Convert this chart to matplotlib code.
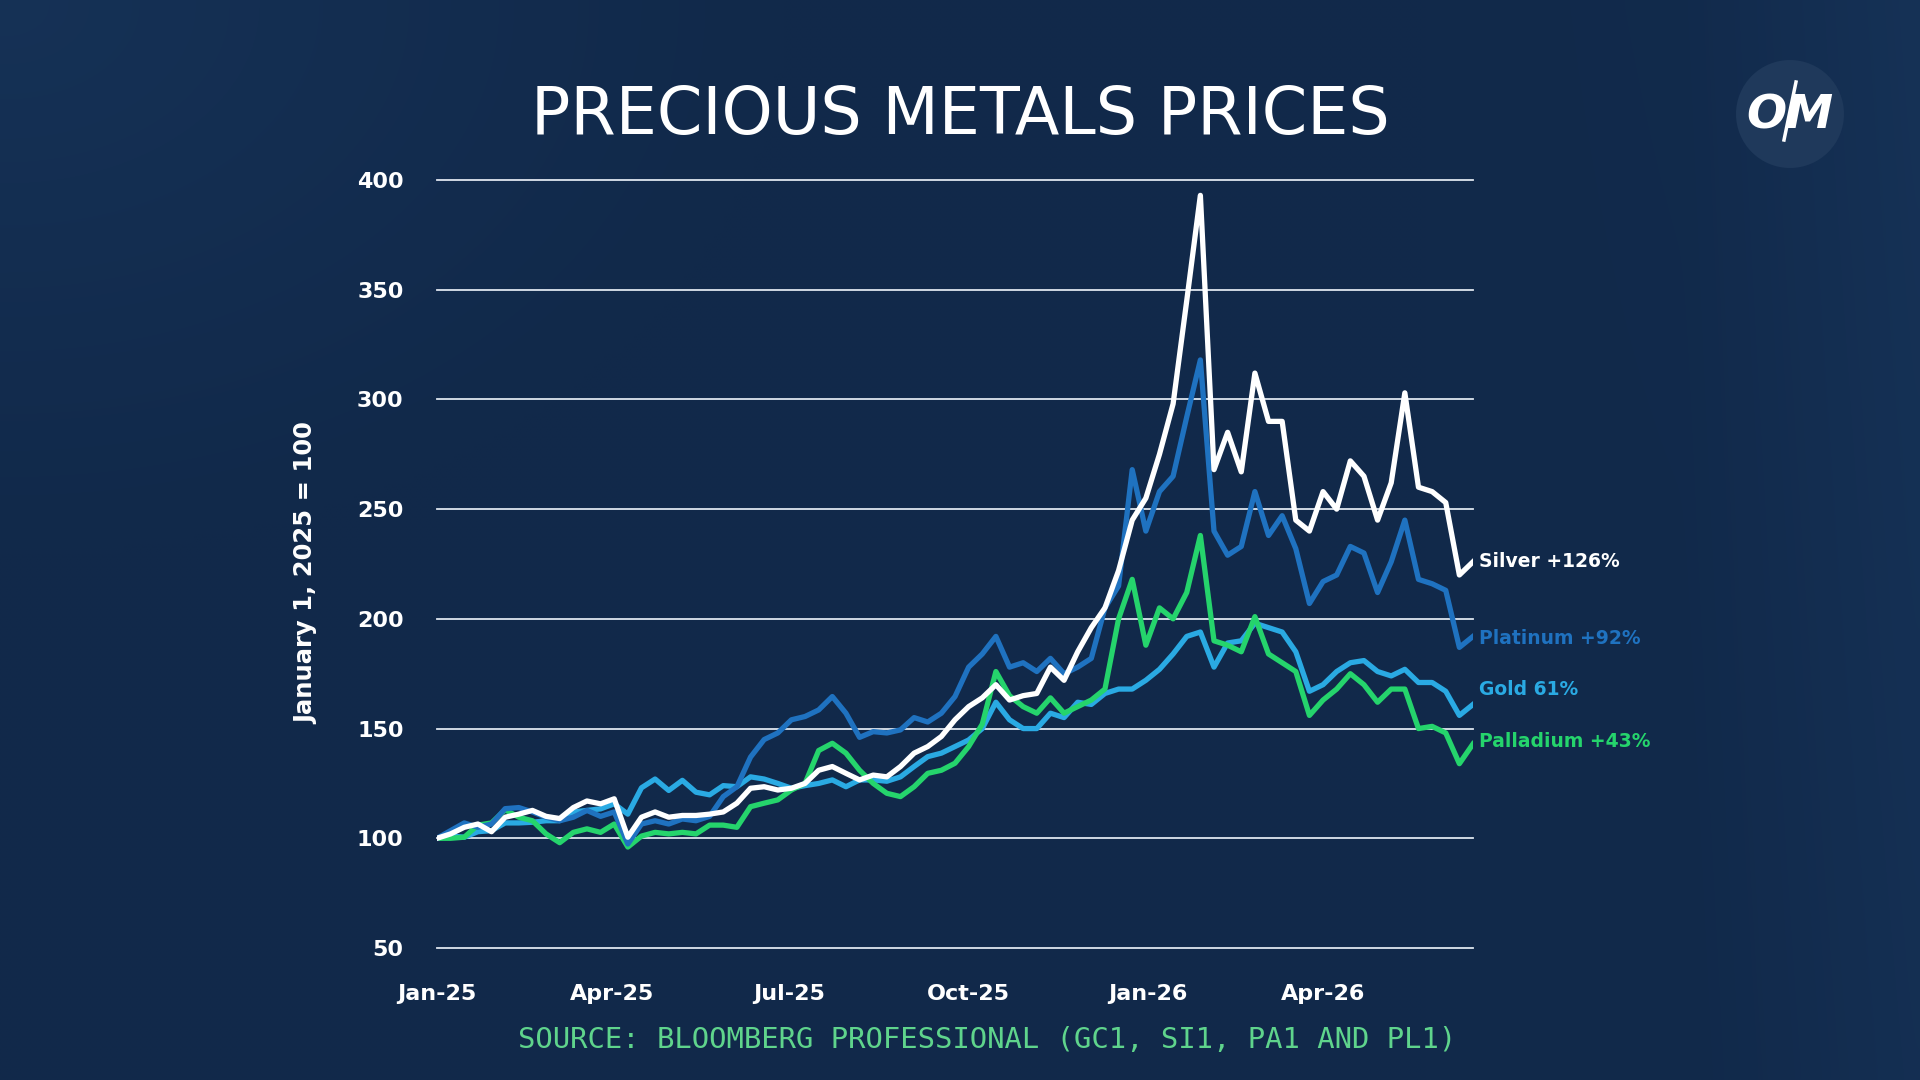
import matplotlib
matplotlib.use('Agg')
import matplotlib.pyplot as plt
import numpy as np
import pandas as pd
from matplotlib.patches import Ellipse
from matplotlib.lines import Line2D

# weekly index values, Jan 1 2025 = 100
silver = [100, 102, 105, 106.5, 103, 109.6, 111, 112.7, 110, 109, 114, 117, 115.7, 118, 100.5, 109.6,
          112, 109.6, 110.4, 110.4, 111, 112, 116, 122.8, 123.5, 122, 122.8, 125, 131, 132.7, 129.6, 126.6,
          128.8, 128, 132.7, 138.8, 141.8, 146.4, 154, 160, 164, 170, 163, 165, 166, 178, 172, 185,
          196, 205, 222, 245, 255, 275, 298, 345, 393, 268, 285, 267, 312, 290, 290, 245, 240, 258,
          250, 272, 265, 245, 262, 303, 260, 258, 253, 220, 226]
platinum = [100, 103.5, 107, 105, 106.5, 113.5, 114, 112, 109.6, 108, 109.6, 112.7, 110, 112, 97.4, 106.5,
            108, 106.5, 108.8, 108, 110, 119, 123.5, 137, 145, 148, 154, 155.5, 158.5, 164.6, 157, 146,
            148.6, 148, 149.4, 155, 153, 157, 164.6, 178, 184, 192, 178, 180, 176, 182, 175, 178,
            182, 205, 215, 268, 240, 258, 265, 292, 318, 240, 229, 233, 258, 238, 247, 232, 207, 217,
            220, 233, 230, 212, 226, 245, 218, 216, 213, 187, 192]
gold = [100, 101, 100.5, 103, 103.5, 107, 107, 107.3, 108, 108, 112, 112.7, 113.4, 115.7, 111, 123,
        127, 121.8, 126.4, 121, 119.8, 124, 123.5, 128, 127, 125, 122.8, 124, 125, 126.6, 123.5, 126.6,
        126.6, 126, 128, 132.7, 137.2, 138.8, 141.8, 144.8, 150, 162, 154, 150, 150, 157, 155, 162,
        161, 166, 168, 168, 172, 177, 184, 192, 194, 178, 189, 190, 198, 196, 194, 185, 167, 170,
        176, 180, 181, 176, 174, 177, 171, 171, 167, 156, 161]
palladium = [100, 100, 100.5, 106, 107, 113, 109.6, 108, 102, 98, 102.7, 104.3, 102.7, 106.5, 96, 101,
             102.7, 102, 102.7, 102, 106, 106, 105, 114.4, 116, 117.5, 122, 125, 140, 143.3, 138.8, 131,
             125, 120.5, 119, 123.5, 129.6, 131, 134.2, 141.8, 152, 176, 165, 160, 157, 164, 157, 160,
             163, 168, 200, 218, 188, 205, 200, 212, 238, 190, 188, 185, 201, 184, 180, 176, 156, 163,
             168, 175, 170, 162, 168, 168, 150, 151, 148, 134, 143]

dates = pd.date_range('2025-01-01', periods=len(silver), freq='7D')
xticks = pd.to_datetime(['2025-01-01', '2025-04-01', '2025-07-01', '2025-10-01', '2026-01-01', '2026-04-01'])
xlabels = ['Jan-25', 'Apr-25', 'Jul-25', 'Oct-25', 'Jan-26', 'Apr-26']
yticks = [50, 100, 150, 200, 250, 300, 350, 400]

names = ['Silver +126%', 'Platinum +92%', 'Gold 61%', 'Palladium +43%']
label_y = [226, 191, 168, 144]

bg = '#11294a'
c_silver = '#ffffff'
c_plat = '#1f72c0'
c_gold = '#2aaae3'
c_pall = '#25d46c'

fig = plt.figure(figsize=(19.2, 10.8), dpi=100, facecolor=bg)

# soft background shading, a bit lighter towards the corners
bgax = fig.add_axes([0, 0, 1, 1], zorder=-10)
gx, gy = np.meshgrid(np.linspace(0, 1, 192), np.linspace(0, 1, 108))
shade = 0.5 * np.clip(1 - np.hypot(gx / 0.4, (1 - gy) / 0.5), 0, 1) \
    + 0.35 * np.clip((gx - 0.88) / 0.12, 0, 1) + 0.15 * np.clip((gx - 0.75) / 0.25, 0, 1) * gy
base = np.array([0x11, 0x29, 0x4a]) / 255
light = np.array([0x1a, 0x3a, 0x62]) / 255
img = base + np.clip(shade, 0, 1)[..., None] * (light - base)
bgax.imshow(img, origin='lower', extent=[0, 1, 0, 1], aspect='auto', interpolation='bicubic')
bgax.axis('off')

ax = fig.add_axes([437/1920, 132/1080, 1036/1920, 768/1080])
ax.set_facecolor('none')

ax.plot(dates, gold, color=c_gold, lw=3.8, solid_joinstyle='round', zorder=3)
ax.plot(dates, palladium, color=c_pall, lw=3.8, solid_joinstyle='round', zorder=4)
ax.plot(dates, platinum, color=c_plat, lw=3.8, solid_joinstyle='round', zorder=5)
ax.plot(dates, silver, color=c_silver, lw=3.8, solid_joinstyle='round', zorder=6)

ax.set_xlim(dates[0], dates[-1])
ax.set_ylim(50, 400)
ax.set_yticks(yticks)
ax.set_xticks(xticks)
ax.set_xticklabels(xlabels)
ax.yaxis.grid(True, color='#dfe6ef', lw=1.3)
for gl in ax.get_ygridlines():
    gl.set_clip_on(False)
ax.set_axisbelow(True)
for s in ax.spines.values():
    s.set_visible(False)
ax.tick_params(axis='both', length=0, colors='white', labelsize=16)
ax.tick_params(axis='y', pad=24)
ax.tick_params(axis='x', pad=26)
for t in ax.get_xticklabels() + ax.get_yticklabels():
    t.set_fontweight('bold')

# end labels
cols = [c_silver, c_plat, c_gold, c_pall]
for n, y, c in zip(names, label_y, cols):
    ax.annotate(n, xy=(1, 0), xycoords='axes fraction', xytext=(1.006, (y - 50) / 350),
                textcoords='axes fraction', color=c, fontsize=13.5, fontweight='bold',
                va='center', ha='left', annotation_clip=False)

fig.text(306/1920, 1 - 573/1080, 'January 1, 2025 = 100', rotation=90, color='white',
         fontsize=17.5, family='DejaVu Sans', fontweight='bold',
         ha='center', va='center')

fig.text(0.5, 1 - 116/1080, 'PRECIOUS METALS PRICES', color='white', fontsize=47,
         ha='center', va='center')

fig.text(987/1920, 1 - 1040/1080, 'SOURCE: BLOOMBERG PROFESSIONAL (GC1, SI1, PA1 AND PL1)',
         color='#5fd48c', fontsize=20.8, family='DejaVu Sans Mono', ha='center', va='center')

# logo
logo = Ellipse((1790/1920, 1 - 114/1080), 108/1920, 108/1080, transform=fig.transFigure,
               facecolor='#1f395b', edgecolor='none')
fig.patches.append(logo)
fig.text(1790/1920, 1 - 116/1080, 'OM', color='white', fontsize=34, fontweight='bold',
         style='italic', ha='center', va='center')
fig.lines.append(Line2D([1784/1920, 1796/1920], [1 - 140/1080, 1 - 82/1080],
                        transform=fig.transFigure, color='white', lw=2.5))

fig.savefig('out.png', dpi=100, facecolor=bg)
